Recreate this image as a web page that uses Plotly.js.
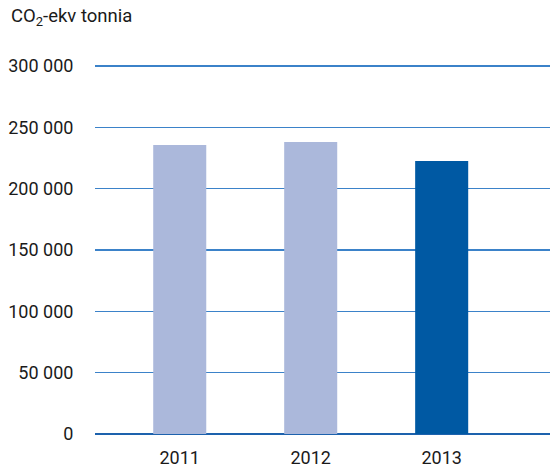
<!DOCTYPE html>
<html><head><meta charset="utf-8">
<script src="https://cdn.plot.ly/plotly-3.0.1.min.js"></script>
<style>html,body{margin:0;padding:0;background:#fff}#c{width:550px;height:472px}</style>
</head><body><div id="c"></div>
<script>
const years = ['2011', '2012', '2013'];
const emissions = [235600, 238000, 222500];
const barColors = ['#abb8db', '#abb8db', '#0059a3'];
const yTickVals = [0, 50000, 100000, 150000, 200000, 250000, 300000];
const yTickText = ['0', '50 000', '100 000', '150 000', '200 000', '250 000', '300 000'];
const yTitle = 'CO<sub>2</sub>-ekv tonnia';

const font = "Roboto, sans-serif";
Plotly.newPlot('c', [{
  type: 'bar', x: years, y: emissions, width: 0.405,
  marker: {color: barColors}, hoverinfo: 'none'
}], {
  width: 550, height: 472,
  margin: {l: 95, r: 0, t: 60, b: 38},
  paper_bgcolor: '#fff', plot_bgcolor: '#fff',
  showlegend: false,
  xaxis: {type: 'category', range: [-0.647, 2.827], showgrid: false, zeroline: false,
    showline: false, ticks: 'outside', ticklen: 7, tickcolor: 'rgba(0,0,0,0)',
    tickfont: {family: font, size: 18, color: '#1a1a1a'}},
  yaxis: {range: [0, 304900], tickvals: yTickVals, ticktext: yTickText,
    showgrid: true, gridcolor: '#3b82c9', gridwidth: 1.2,
    zeroline: true, zerolinecolor: '#1d62ad', zerolinewidth: 1.5,
    showline: false, ticks: 'outside', ticklen: 17, tickcolor: 'rgba(0,0,0,0)',
    tickfont: {family: font, size: 18, color: '#1a1a1a'}},
  annotations: [{text: yTitle, xref: 'paper', yref: 'paper', x: -86/455, y: 1, yshift: 43,
    xanchor: 'left', yanchor: 'middle', showarrow: false,
    font: {family: 'Roboto, sans-serif', size: 18.5, color: '#1a1a1a'}}]
}, {displayModeBar: false, staticPlot: true});
</script></body></html>
